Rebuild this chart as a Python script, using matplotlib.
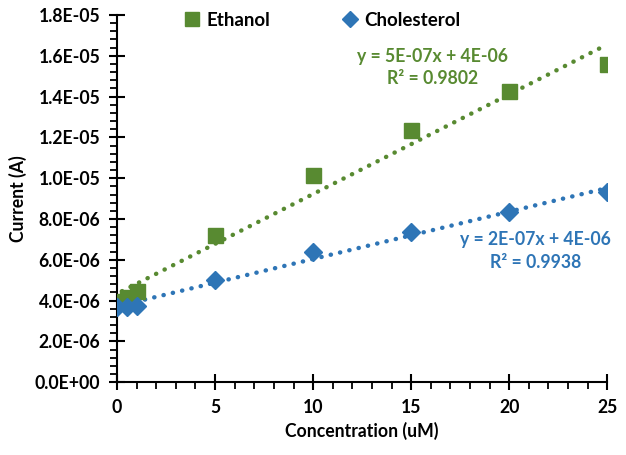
import numpy as np
import matplotlib
matplotlib.use('Agg')
import matplotlib.pyplot as plt
from matplotlib.ticker import MultipleLocator, FuncFormatter

plt.rcParams['font.family'] = ['Lato', 'DejaVu Sans']
plt.rcParams['font.weight'] = 'bold'

# data
eth_x = [0.25, 0.5, 1, 5, 10, 15, 20, 25]
eth_y = [4.0e-06, 4.2e-06, 4.45e-06, 7.2e-06, 10.15e-06, 12.35e-06, 14.26e-06, 15.6e-06]
chol_x = [0, 0.5, 1, 5, 10, 15, 20, 25]
chol_y = [3.7e-06, 3.7e-06, 3.75e-06, 5.0e-06, 6.37e-06, 7.35e-06, 8.33e-06, 9.31e-06]
eth_eq = ["y = 5E-07x + 4E-06", "R\u00b2 = 0.9802"]
chol_eq = ["y = 2E-07x + 4E-06", "R\u00b2 = 0.9938"]

green = '#588a31'
blue = '#2e75b6'
fs = 12.7

fig = plt.figure(figsize=(6.26, 4.55), dpi=100)
ax = fig.add_axes([0.187, 0.160, 0.783, 0.807])

# trendlines (least squares over the data range, like Excel)
for xs, ys, c in [(eth_x, eth_y, green), (chol_x, chol_y, blue)]:
    k, b = np.polyfit(xs, ys, 1)
    xl = np.array([min(xs), max(xs)])
    ax.plot(xl, k * xl + b, color=c, lw=3.2, linestyle=(0, (0.05, 2.1)),
            dash_capstyle='round', zorder=2)

ax.plot(eth_x, eth_y, 's', color=green, ms=10.8, label='Ethanol', zorder=3)
ax.plot(chol_x, chol_y, 'D', color=blue, ms=9, label='Cholesterol', zorder=3)

ax.set_xlim(0, 25)
ax.set_ylim(0, 1.8e-05)
ax.xaxis.set_major_locator(MultipleLocator(5))
ax.xaxis.set_minor_locator(MultipleLocator(1))
ax.yaxis.set_major_locator(MultipleLocator(2e-06))
ax.yaxis.set_minor_locator(MultipleLocator(4e-07))
ax.yaxis.set_major_formatter(FuncFormatter(lambda v, p: f"{v:.1E}"))

for s in ['top', 'right']:
    ax.spines[s].set_visible(False)
for s in ['left', 'bottom']:
    ax.spines[s].set_linewidth(1.5)
ax.tick_params(which='major', direction='inout', length=12, width=1.5,
               labelsize=fs, pad=6)
ax.tick_params(which='minor', direction='out', length=5, width=1.3)
for lab in ax.get_xticklabels() + ax.get_yticklabels():
    lab.set_fontweight('bold')

ax.set_xlabel('Concentration (uM)', fontsize=fs, fontweight='bold', labelpad=4)
ax.set_ylabel('Current (A)', fontsize=fs, fontweight='bold', labelpad=6)

fig.legend(loc='center left', bbox_to_anchor=(0.2917, 0.956), ncol=2,
           frameon=False, borderpad=0, borderaxespad=0, handlelength=1.0,
           handletextpad=0.25, columnspacing=3.8, markerscale=0.9,
           prop={'weight': 'bold', 'size': 13.5})

ax.text(0.643, 0.857, eth_eq[0] + "\n" + eth_eq[1], transform=ax.transAxes,
        color=green, fontsize=fs, fontweight='bold', ha='center', va='center',
        linespacing=1.42)
ax.text(0.853, 0.358, chol_eq[0] + "\n" + chol_eq[1], transform=ax.transAxes,
        color=blue, fontsize=fs, fontweight='bold', ha='center', va='center',
        linespacing=1.42)

fig.savefig('out.png', dpi=100)
